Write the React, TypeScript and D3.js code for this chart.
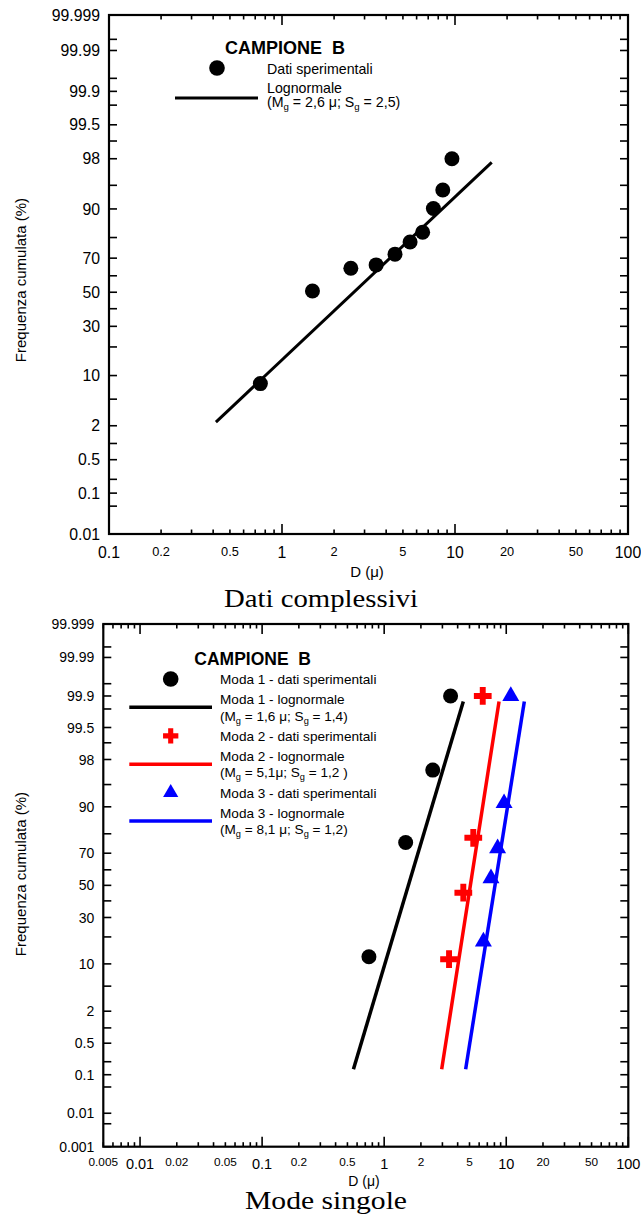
import * as React from "react";
import { useRef, useEffect } from "react";
import * as d3 from "d3";

const W = 641;
const H = 1223;
const SANS = "'Liberation Sans', Arial, sans-serif";
const SERIF = "'Liberation Serif', 'Times New Roman', serif";

// tick labels
const topXLabels = [0.1, 0.2, 0.5, 1, 2, 5, 10, 20, 50, 100];
const botXLabels = [0.005, 0.01, 0.02, 0.05, 0.1, 0.2, 0.5, 1, 2, 5, 10, 20, 50, 100];
const topYTicks = [0.01, 0.05, 0.1, 0.2, 0.5, 1, 2, 5, 10, 20, 30, 40, 50, 60, 70, 80, 90, 95, 98, 99, 99.5, 99.8, 99.9, 99.95, 99.99, 99.995, 99.999];
const botYTicks = [0.001, 0.005, ...topYTicks];
const topYLabels = ["0.01", "0.1", "0.5", "2", "10", "30", "50", "70", "90", "98", "99.5", "99.9", "99.99", "99.999"];
const botYLabels = ["0.001", ...topYLabels];

// Dati complessivi (D in micron, cumulative %)
const allD = [0.75, 1.5, 2.5, 3.5, 4.5, 5.5, 6.5, 7.5, 8.5, 9.6];
const allP = [8, 50.8, 64.4, 66.3, 72.1, 78, 82.2, 90.1, 94.2, 98];
const allFitD = [0.415, 16.3];
const allFitP = [2.28, 97.72];

// Mode singole
const moda1D = [0.75, 1.5, 2.5, 3.5];
const moda1P = [12.2, 75.8, 97, 99.9];
const moda1FitD = [0.56, 4.45];
const moda2D = [3.4, 4.45, 5.37, 6.42];
const moda2P = [11.4, 45.2, 78.1, 99.9];
const moda2FitD = [2.96, 8.73];
const moda3D = [6.5, 7.5, 8.5, 9.6, 10.9];
const moda3P = [17.9, 54.5, 72.7, 91, 99.9];
const moda3FitD = [4.65, 14.07];
const modeFitP = [0.135, 99.865];

// Acklam inverse normal cdf, used for the probability axis
function probit(p: number) {
  const a = [-39.69683028665376, 220.9460984245205, -275.9285104469687, 138.357751867269, -30.66479806614716, 2.506628277459239];
  const b = [-54.47609879822406, 161.5858368580409, -155.6989798598866, 66.80131188771972, -13.28068155288572];
  const c = [-0.007784894002430293, -0.3223964580411365, -2.400758277161838, -2.549732539343734, 4.374664141464968, 2.938163982698783];
  const d = [0.007784695709041462, 0.3224671290700398, 2.445134137142996, 3.754408661907416];
  const pl = 0.02425;
  if (p < pl) {
    const q = Math.sqrt(-2 * Math.log(p));
    return (((((c[0] * q + c[1]) * q + c[2]) * q + c[3]) * q + c[4]) * q + c[5]) / ((((d[0] * q + d[1]) * q + d[2]) * q + d[3]) * q + 1);
  }
  if (p > 1 - pl) {
    const q = Math.sqrt(-2 * Math.log(1 - p));
    return -(((((c[0] * q + c[1]) * q + c[2]) * q + c[3]) * q + c[4]) * q + c[5]) / ((((d[0] * q + d[1]) * q + d[2]) * q + d[3]) * q + 1);
  }
  const q = p - 0.5;
  const r = q * q;
  return ((((((a[0] * r + a[1]) * r + a[2]) * r + a[3]) * r + a[4]) * r + a[5]) * q) / (((((b[0] * r + b[1]) * r + b[2]) * r + b[3]) * r + b[4]) * r + 1);
}

function drawMarker(g: any, kind: string, cx: number, cy: number, color: string, big: boolean) {
  if (kind === "circle") {
    g.append("circle").attr("cx", cx).attr("cy", cy).attr("r", big ? 7.5 : 7.8).attr("fill", color);
  } else if (kind === "cross") {
    g.append("path")
      .attr("transform", `translate(${cx},${cy})`)
      .attr("d", d3.symbol(d3.symbolCross, big ? 175 : 130)())
      .attr("fill", color);
  } else {
    g.append("path")
      .attr("transform", `translate(${cx},${cy})`)
      .attr("d", d3.symbol(d3.symbolTriangle, big ? 125 : 100)())
      .attr("fill", color);
  }
}

// text with subscripts: parts alternate normal / subscript
function subText(g: any, x: number, y: number, parts: string[], size: number) {
  const t = g.append("text").attr("x", x).attr("y", y).attr("font-size", size).attr("font-family", SANS).attr("xml:space", "preserve");
  parts.forEach((s, i) => {
    const sub = i % 2 === 1;
    t.append("tspan")
      .attr("dy", sub ? 3 : i === 0 ? 0 : -3)
      .attr("font-size", sub ? size * 0.68 : size)
      .text(s);
  });
}

function drawPanel(svg: any, cfg: any) {
  const g = svg.append("g");
  const x = d3.scaleLog().domain(cfg.xDomain).range([cfg.left, cfg.right]);
  const z = d3
    .scaleLinear()
    .domain([probit(cfg.yTicks[0] / 100), probit(cfg.yTicks[cfg.yTicks.length - 1] / 100)])
    .range([cfg.bottom, cfg.top]);
  const y = (p: number) => z(probit(p / 100));

  // x ticks, bottom and top, pointing inward
  x.ticks().forEach((t: number) => {
    const lg = Math.log10(t);
    const major = Math.abs(lg - Math.round(lg)) < 1e-6;
    const len = major ? 10 : 4.5;
    g.append("line").attr("x1", x(t)).attr("x2", x(t)).attr("y1", cfg.bottom).attr("y2", cfg.bottom - len).attr("stroke", "#000").attr("stroke-width", 1.6);
    g.append("line").attr("x1", x(t)).attr("x2", x(t)).attr("y1", cfg.top).attr("y2", cfg.top + len).attr("stroke", "#000").attr("stroke-width", 1.6);
  });
  cfg.xLabels.forEach((t: number) => {
    const lg = Math.log10(t);
    const major = Math.abs(lg - Math.round(lg)) < 1e-6;
    g.append("text")
      .attr("x", x(t))
      .attr("y", cfg.bottom + (major ? cfg.xLabBig[1] : cfg.xLabSmall[1]))
      .attr("text-anchor", "middle")
      .attr("font-family", SANS)
      .attr("font-size", major ? cfg.xLabBig[0] : cfg.xLabSmall[0])
      .text(String(t));
  });

  // y ticks, left and right
  cfg.yTicks.forEach((p: number) => {
    g.append("line").attr("x1", cfg.left).attr("x2", cfg.left + 8).attr("y1", y(p)).attr("y2", y(p)).attr("stroke", "#000").attr("stroke-width", 1.6);
    g.append("line").attr("x1", cfg.right).attr("x2", cfg.right - 8).attr("y1", y(p)).attr("y2", y(p)).attr("stroke", "#000").attr("stroke-width", 1.6);
  });
  cfg.yLabels.forEach((s: string) => {
    g.append("text")
      .attr("x", cfg.left - 9)
      .attr("y", y(Number(s)))
      .attr("dy", "0.36em")
      .attr("text-anchor", "end")
      .attr("font-family", SANS)
      .attr("font-size", cfg.yLabSize)
      .text(s);
  });

  // frame
  g.append("rect")
    .attr("x", cfg.left)
    .attr("y", cfg.top)
    .attr("width", cfg.right - cfg.left)
    .attr("height", cfg.bottom - cfg.top)
    .attr("fill", "none")
    .attr("stroke", "#000")
    .attr("stroke-width", 2.2);

  // axis titles
  g.append("text")
    .attr("transform", `translate(${cfg.yTitle[0]},${cfg.yTitle[1]}) rotate(-90)`)
    .attr("text-anchor", "middle")
    .attr("font-family", SANS)
    .attr("font-size", 15)
    .text("Frequenza cumulata (%)");
  g.append("text")
    .attr("x", cfg.xTitle[0])
    .attr("y", cfg.xTitle[1])
    .attr("text-anchor", "middle")
    .attr("font-family", SANS)
    .attr("font-size", cfg.xTitle[2])
    .text("D (\u03bc)");
  g.append("text")
    .attr("x", cfg.caption[0])
    .attr("y", cfg.caption[1])
    .attr("text-anchor", "middle")
    .attr("font-family", SERIF)
    .attr("font-size", 25)
    .attr("textLength", cfg.caption[2])
    .attr("lengthAdjust", "spacingAndGlyphs")
    .text(cfg.captionText);

  // fitted lines then points
  cfg.series.forEach((s: any) => {
    const pts = s.fitD.map((dv: number, i: number) => [x(dv), y(s.fitP[i])]);
    g.append("path")
      .attr("d", d3.line()(pts))
      .attr("fill", "none")
      .attr("stroke", s.color)
      .attr("stroke-width", cfg.lineWidth);
  });
  cfg.series.forEach((s: any) => {
    s.d.forEach((dv: number, i: number) => drawMarker(g, s.marker, x(dv), y(s.p[i]), s.color, true));
  });

  return g;
}

export default function App() {
  const ref = useRef<SVGSVGElement | null>(null);
  useEffect(() => {
    const svg = d3.select(ref.current);
    svg.selectAll("*").remove();
    svg.append("rect").attr("width", W).attr("height", H).attr("fill", "#fff");

    // ---- top panel: Dati complessivi
    const gTop = drawPanel(svg, {
      left: 109,
      right: 628,
      top: 15,
      bottom: 534,
      xDomain: [0.1, 100],
      xLabels: topXLabels,
      yTicks: topYTicks,
      yLabels: topYLabels,
      yLabSize: 15.8,
      xLabBig: [15.8, 24.3],
      xLabSmall: [12.8, 22],
      yTitle: [25.5, 280],
      xTitle: [367, 577, 15],
      caption: [321, 607, 194],
      captionText: "Dati complessivi",
      lineWidth: 3,
      series: [{ color: "#000", marker: "circle", d: allD, p: allP, fitD: allFitD, fitP: allFitP }],
    });
    gTop.append("text")
      .attr("x", 225).attr("y", 54)
      .attr("font-family", SANS).attr("font-weight", "bold").attr("font-size", 18)
      .attr("xml:space", "preserve")
      .text("CAMPIONE  B");
    drawMarker(gTop, "circle", 217, 68, "#000", false);
    gTop.append("text").attr("x", 267).attr("y", 74).attr("font-family", SANS).attr("font-size", 14.2).text("Dati sperimentali");
    gTop.append("line").attr("x1", 175).attr("x2", 258).attr("y1", 98).attr("y2", 98).attr("stroke", "#000").attr("stroke-width", 3);
    gTop.append("text").attr("x", 267).attr("y", 93).attr("font-family", SANS).attr("font-size", 14.2).text("Lognormale");
    subText(gTop, 267, 107, ["(M", "g", " = 2,6 \u03bc; S", "g", " = 2,5)"], 14.2);

    // ---- bottom panel: Mode singole
    const modes = [
      { name: "Moda 1", color: "#000", marker: "circle", d: moda1D, p: moda1P, fitD: moda1FitD, fitP: modeFitP, params: ["(M", "g", " = 1,6 \u03bc; S", "g", " = 1,4)"] },
      { name: "Moda 2", color: "#ff0000", marker: "cross", d: moda2D, p: moda2P, fitD: moda2FitD, fitP: modeFitP, params: ["(M", "g", " = 5,1\u03bc; S", "g", " = 1,2 )"] },
      { name: "Moda 3", color: "#0000ff", marker: "triangle", d: moda3D, p: moda3P, fitD: moda3FitD, fitP: modeFitP, params: ["(M", "g", " = 8,1 \u03bc; S", "g", " = 1,2)"] },
    ];
    const gBot = drawPanel(svg, {
      left: 103.3,
      right: 628.3,
      top: 624,
      bottom: 1146.7,
      xDomain: [0.005, 100],
      xLabels: botXLabels,
      yTicks: botYTicks,
      yLabels: botYLabels,
      yLabSize: 14,
      xLabBig: [14.5, 22.6],
      xLabSmall: [11.8, 19.5],
      yTitle: [26, 874],
      xTitle: [364, 1186, 14],
      caption: [326, 1209, 162],
      captionText: "Mode singole",
      lineWidth: 3.5,
      series: modes,
    });
    gBot.append("text")
      .attr("x", 194.3).attr("y", 665)
      .attr("font-family", SANS).attr("font-weight", "bold").attr("font-size", 17.5)
      .attr("xml:space", "preserve")
      .text("CAMPIONE  B");
    modes.forEach((m, i) => {
      const y0 = 679 + i * 56.85;
      drawMarker(gBot, m.marker, 170.7, y0, m.color, false);
      gBot.append("text").attr("x", 220).attr("y", y0 + 5).attr("font-family", SANS).attr("font-size", 13.6).text(`${m.name} - dati sperimentali`);
      gBot.append("line").attr("x1", 129.3).attr("x2", 212).attr("y1", y0 + 28.3).attr("y2", y0 + 28.3).attr("stroke", m.color).attr("stroke-width", 3.5);
      gBot.append("text").attr("x", 220).attr("y", y0 + 25.3).attr("font-family", SANS).attr("font-size", 13.6).text(`${m.name} - lognormale`);
      subText(gBot, 220, y0 + 41.5, m.params, 13.6);
    });
  }, []);

  return (
    <svg
      ref={ref}
      width={W}
      height={H}
      style={{ position: "absolute", left: 0, top: 0, display: "block" }}
    />
  );
}
